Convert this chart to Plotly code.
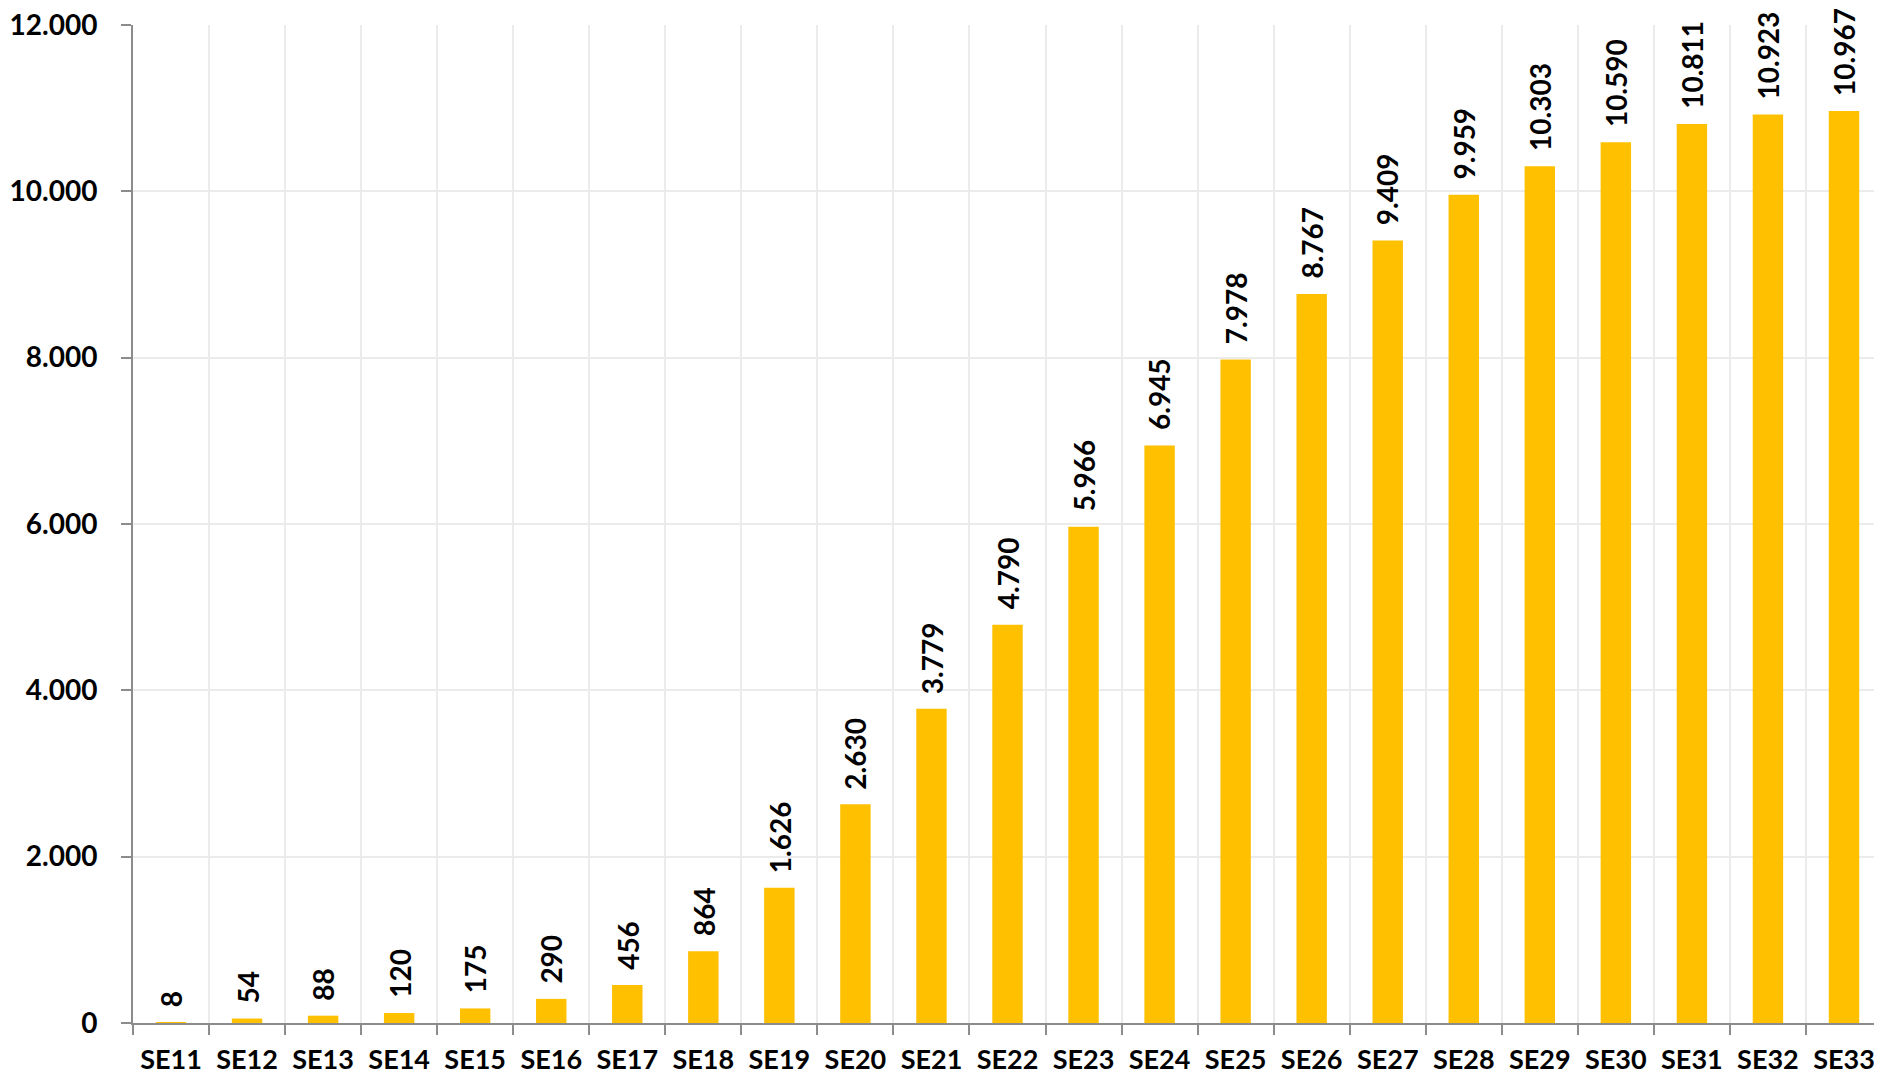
import plotly.graph_objects as go

categories = ["SE11", "SE12", "SE13", "SE14", "SE15", "SE16", "SE17", "SE18", "SE19", "SE20",
              "SE21", "SE22", "SE23", "SE24", "SE25", "SE26", "SE27", "SE28", "SE29", "SE30",
              "SE31", "SE32", "SE33"]
values = [8, 54, 88, 120, 175, 290, 456, 864, 1626, 2630, 3779, 4790, 5966, 6945, 7978,
          8767, 9409, 9959, 10303, 10590, 10811, 10923, 10967]
y_ticks = [0, 2000, 4000, 6000, 8000, 10000, 12000]

FONT = "Lato"
BAR = "#FFC000"
GRID = "#EBEBEB"
AXIS = "#8C8C8C"

def fmt(v):
    return f"{v:,}".replace(",", ".")

fig = go.Figure()
fig.add_trace(go.Bar(x=categories, y=values, marker=dict(color=BAR, line=dict(width=0)),
                     hoverinfo="x+y"))

for c, v in zip(categories, values):
    fig.add_annotation(x=c, y=v, text="<b>" + fmt(v) + "</b>", textangle=-90,
                       showarrow=False, xanchor="center", yanchor="bottom", yshift=13,
                       font=dict(family=FONT, size=28, color="#000000"))

# the page adds an 8px body margin, so the figure is offset by 8px
fig.update_layout(
    width=1874, height=1070,
    margin=dict(l=125, r=0, t=17, b=55, autoexpand=False),
    paper_bgcolor="white", plot_bgcolor="white",
    bargap=0.6, showlegend=False,
    separators=",.",
    font=dict(family=FONT, size=28, color="#000000"),
)
fig.update_xaxes(
    type="category", tickson="boundaries", showgrid=True, gridcolor=GRID, gridwidth=1.5,
    showline=True, linecolor=AXIS, linewidth=2, automargin=False,
    ticks="outside", ticklen=10, tickcolor=AXIS, tickwidth=2,
    tickfont=dict(family=FONT, size=27, color="#000000", weight="bold"),
    ticklabelstandoff=12, ticklabeloverflow="allow",
)
fig.update_yaxes(
    range=[0, 12000], tickvals=y_ticks, ticktext=[fmt(t) for t in y_ticks],
    showgrid=True, gridcolor=GRID, gridwidth=1.5, zeroline=False,
    showline=True, linecolor=AXIS, linewidth=2, automargin=False,
    ticks="outside", ticklen=10, tickcolor=AXIS, tickwidth=2,
    tickfont=dict(family=FONT, size=28, color="#000000", weight="bold"),
    ticklabelstandoff=18, ticklabeloverflow="allow",
)

fig.write_html("out.html")
